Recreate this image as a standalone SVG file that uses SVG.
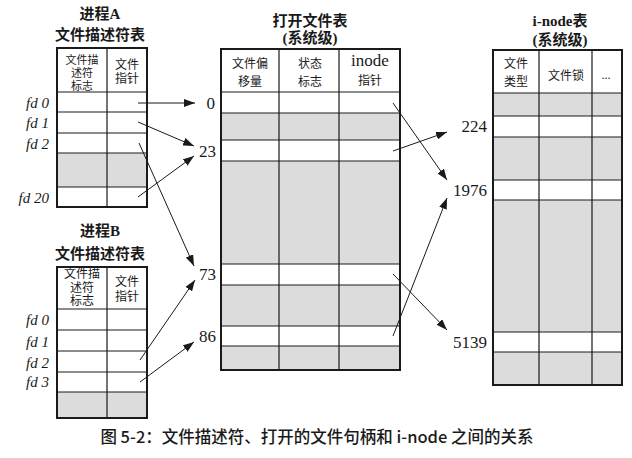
<svg xmlns="http://www.w3.org/2000/svg" width="632" height="458" viewBox="0 0 632 458">
<style>
.t{font-family:"Liberation Serif","Noto Sans CJK SC",serif;fill:#1a1a1a;text-anchor:middle}
.title{font-size:15px;font-weight:bold}
.h{font-size:12px}
.hs{font-size:11px}
.fd{font-family:"Liberation Serif",serif;font-style:italic;font-size:15px;fill:#1a1a1a;text-anchor:end}
.num{font-family:"Liberation Serif",serif;font-size:17px;fill:#1a1a1a;text-anchor:end}
.grey{fill:#dcdcdc}
.white{fill:#ffffff}
.outer{fill:none;stroke:#1a1a1a;stroke-width:2}
.in{stroke:#1a1a1a;stroke-width:1.2;fill:none}
.con{stroke:#1a1a1a;stroke-width:1;fill:none}
.cap{font-family:"Noto Sans CJK SC","Liberation Sans",sans-serif;font-size:16.5px;font-weight:500;fill:#1a1a1a;text-anchor:middle}
</style>
<defs>
<marker id="ah" markerUnits="userSpaceOnUse" markerWidth="11" markerHeight="8" refX="11" refY="4" orient="auto">
<path d="M0,0 L11,4 L0,8 z" fill="#1a1a1a"/>
</marker>
</defs>
<rect width="632" height="458" fill="#ffffff"/>

<g id="procA">
<text class="t title" x="100" y="19">进程A</text>
<text class="t title" x="100" y="40">文件描述符表</text>
<rect class="white" x="57" y="48" width="90" height="159"/>
<rect class="grey" x="57" y="153" width="90" height="34"/>
<path class="in" d="M57,92H147M57,112H147M57,133H147M57,153H147M57,187H147M107,48V207"/>
<rect class="outer" x="57" y="48" width="90" height="159"/>
<text class="t hs" x="82" y="64">文件描</text>
<text class="t hs" x="82" y="77">述符</text>
<text class="t hs" x="82" y="90">标志</text>
<text class="t h" x="127" y="69">文件</text>
<text class="t h" x="127" y="83">指针</text>
<text class="fd" x="49" y="108">fd 0</text>
<text class="fd" x="49" y="128">fd 1</text>
<text class="fd" x="49" y="149">fd 2</text>
<text class="fd" x="49" y="203">fd 20</text>
</g>

<g id="procB">
<text class="t title" x="100" y="236">进程B</text>
<text class="t title" x="100" y="259">文件描述符表</text>
<rect class="white" x="57" y="267" width="90" height="151"/>
<rect class="grey" x="57" y="392" width="90" height="26"/>
<path class="in" d="M57,309H147M57,330H147M57,351H147M57,372H147M57,392H147M107,267V418"/>
<rect class="outer" x="57" y="267" width="90" height="151"/>
<text class="t h" x="82" y="278">文件描</text>
<text class="t h" x="82" y="292">述符</text>
<text class="t h" x="82" y="305">标志</text>
<text class="t h" x="127" y="286">文件</text>
<text class="t h" x="127" y="301">指针</text>
<text class="fd" x="49" y="325">fd 0</text>
<text class="fd" x="49" y="347">fd 1</text>
<text class="fd" x="49" y="368">fd 2</text>
<text class="fd" x="49" y="387">fd 3</text>
</g>

<g id="openfile">
<text class="t title" x="310" y="26">打开文件表</text>
<text class="t title" x="310" y="43">(系统级)</text>
<rect class="white" x="221" y="49" width="179" height="321"/>
<rect class="grey" x="221" y="113" width="179" height="27"/>
<rect class="grey" x="221" y="161" width="179" height="103"/>
<rect class="grey" x="221" y="285" width="179" height="41"/>
<rect class="grey" x="221" y="346" width="179" height="24"/>
<path class="in" d="M221,92H400M221,113H400M221,140H400M221,161H400M221,264H400M221,285H400M221,326H400M221,346H400M279,49V370M339,49V370"/>
<rect class="outer" x="221" y="49" width="179" height="321"/>
<text class="t h" x="250" y="68">文件偏</text>
<text class="t h" x="250" y="86">移量</text>
<text class="t h" x="310" y="68">状态</text>
<text class="t h" x="310" y="86">标志</text>
<text class="t" style="font-size:17px" x="370" y="66">inode</text>
<text class="t h" x="370" y="85">指针</text>
<text class="num" x="215" y="109">0</text>
<text class="num" x="216" y="157">23</text>
<text class="num" x="216" y="280">73</text>
<text class="num" x="216" y="342">86</text>
</g>

<g id="inode">
<text class="t title" x="560" y="26">i-node表</text>
<text class="t title" x="560" y="45">(系统级)</text>
<rect class="white" x="493" y="50" width="129" height="335"/>
<rect class="grey" x="493" y="93" width="129" height="23"/>
<rect class="grey" x="493" y="137" width="129" height="43"/>
<rect class="grey" x="493" y="200" width="129" height="132"/>
<rect class="grey" x="493" y="352" width="129" height="33"/>
<path class="in" d="M493,93H622M493,116H622M493,137H622M493,180H622M493,200H622M493,332H622M493,352H622M539,50V385M592,50V385"/>
<rect class="outer" x="493" y="50" width="129" height="335"/>
<text class="t h" x="516" y="68">文件</text>
<text class="t h" x="516" y="86">类型</text>
<text class="t h" x="566" y="80">文件锁</text>
<text class="t h" x="606" y="79">...</text>
<text class="num" x="487" y="132">224</text>
<text class="num" x="487" y="196">1976</text>
<text class="num" x="487" y="348">5139</text>
</g>

<g id="connectors">
<line class="con" x1="138" y1="103" x2="195" y2="103" marker-end="url(#ah)"/>
<line class="con" x1="138" y1="122" x2="194" y2="146" marker-end="url(#ah)"/>
<line class="con" x1="138" y1="197" x2="194" y2="156" marker-end="url(#ah)"/>
<line class="con" x1="139" y1="143" x2="194" y2="266" marker-end="url(#ah)"/>
<line class="con" x1="140" y1="360" x2="195" y2="280" marker-end="url(#ah)"/>
<line class="con" x1="140" y1="382" x2="194" y2="342" marker-end="url(#ah)"/>
<line class="con" x1="393" y1="103" x2="447" y2="180" marker-end="url(#ah)"/>
<line class="con" x1="393" y1="151" x2="447" y2="132" marker-end="url(#ah)"/>
<line class="con" x1="393" y1="274" x2="447" y2="330" marker-end="url(#ah)"/>
<line class="con" x1="393" y1="336" x2="447" y2="198" marker-end="url(#ah)"/>
</g>

<text class="cap" x="317" y="443">图 5-2：文件描述符、打开的文件句柄和 i-node 之间的关系</text>
</svg>
